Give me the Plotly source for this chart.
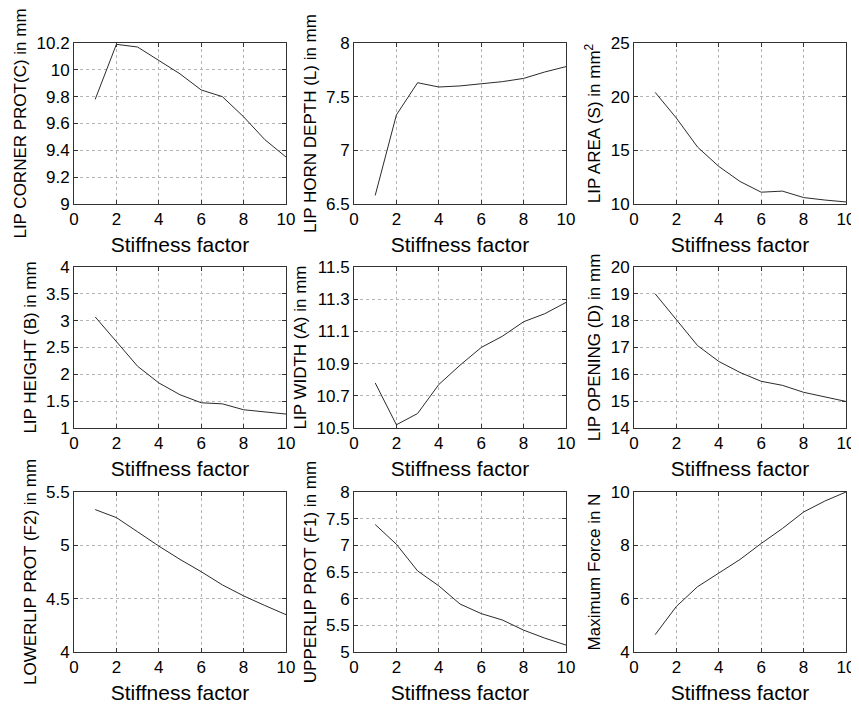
import plotly.graph_objects as go
from plotly.subplots import make_subplots

stiffness = [1, 2, 3, 4, 5, 6, 7, 8, 9, 10]

lip_corner_prot = [9.78, 10.19, 10.17, 10.07, 9.97, 9.85, 9.80, 9.65, 9.48, 9.35]
lip_horn_depth = [6.58, 7.33, 7.63, 7.59, 7.60, 7.62, 7.64, 7.67, 7.73, 7.78]
lip_area = [20.4, 18.0, 15.3, 13.5, 12.1, 11.1, 11.2, 10.6, 10.37, 10.19]
lip_height = [3.07, 2.61, 2.15, 1.84, 1.62, 1.47, 1.45, 1.34, 1.30, 1.26]
lip_width = [10.78, 10.52, 10.59, 10.77, 10.89, 11.00, 11.07, 11.16, 11.21, 11.28]
lip_opening = [19.0, 18.04, 17.07, 16.48, 16.07, 15.74, 15.59, 15.33, 15.16, 14.99]
lowerlip_prot = [5.335, 5.26, 5.127, 4.993, 4.868, 4.753, 4.629, 4.526, 4.436, 4.35]
upperlip_prot = [7.39, 7.02, 6.52, 6.24, 5.90, 5.72, 5.60, 5.41, 5.26, 5.13]
max_force = [4.65, 5.71, 6.45, 6.95, 7.47, 8.07, 8.63, 9.25, 9.66, 10.0]

x_ticks = [0, 2, 4, 6, 8, 10]
x_title = "Stiffness factor"

y_titles = [
    "LIP CORNER PROT(C) in mm",
    "LIP HORN DEPTH (L) in mm",
    "LIP AREA (S) in mm<sup>2</sup>",
    "LIP HEIGHT (B) in mm",
    "LIP WIDTH (A) in mm",
    "LIP OPENING (D) in mm",
    "LOWERLIP PROT (F2) in mm",
    "UPPERLIP PROT (F1) in mm",
    "Maximum Force in N",
]
series = [lip_corner_prot, lip_horn_depth, lip_area, lip_height, lip_width,
          lip_opening, lowerlip_prot, upperlip_prot, max_force]
y_ticks = [
    [9, 9.2, 9.4, 9.6, 9.8, 10, 10.2],
    [6.5, 7, 7.5, 8],
    [10, 15, 20, 25],
    [1, 1.5, 2, 2.5, 3, 3.5, 4],
    [10.5, 10.7, 10.9, 11.1, 11.3, 11.5],
    [14, 15, 16, 17, 18, 19, 20],
    [4, 4.5, 5, 5.5],
    [5, 5.5, 6, 6.5, 7, 7.5, 8],
    [4, 6, 8, 10],
]

# page is offset by the 8px default body margin
OFF = 8
W, H = 859 - OFF, 704 - OFF
col_px = [(74, 286), (354, 566), (634, 846)]
row_px = [(43, 204), (267, 428), (492, 652)]

fig = make_subplots(rows=3, cols=3)

FONT = "Liberation Sans, Arial, Helvetica, sans-serif"
for i in range(9):
    r, c = i // 3, i % 3
    fig.add_trace(go.Scatter(x=stiffness, y=series[i], mode="lines",
                             line=dict(color="#2b2b2b", width=1),
                             showlegend=False, hoverinfo="x+y"),
                  row=r + 1, col=c + 1)
    x0, x1 = col_px[c]
    y0, y1 = row_px[r]
    yt = y_ticks[i]
    fig.update_xaxes(row=r + 1, col=c + 1,
                     domain=[(x0 - OFF) / W, (x1 - OFF) / W], range=[0, 10],
                     automargin=False,
                     tickvals=x_ticks, ticks="inside", ticklen=4,
                     tickcolor="#333", showline=True, mirror="ticks",
                     linecolor="#333", linewidth=1,
                     showgrid=True, gridcolor="#b4b4b4", griddash="dot",
                     gridwidth=1, zeroline=False,
                     tickfont=dict(size=17, color="black", family=FONT),
                     title=dict(text=x_title, standoff=8,
                                font=dict(size=21, color="black", family=FONT)))
    fig.update_yaxes(row=r + 1, col=c + 1,
                     domain=[1 - (y1 - OFF) / H, 1 - (y0 - OFF) / H],
                     range=[yt[0], yt[-1]],
                     automargin=False,
                     tickvals=yt, ticks="inside", ticklen=4,
                     tickcolor="#333", showline=True, mirror="ticks",
                     linecolor="#333", linewidth=1,
                     showgrid=True, gridcolor="#b4b4b4", griddash="dot",
                     gridwidth=1, zeroline=False,
                     tickfont=dict(size=17, color="black", family=FONT),
                     title=dict(text=y_titles[i], standoff=5,
                                font=dict(size=17, color="black", family=FONT)))

fig.update_layout(width=W, height=H,
                  margin=dict(l=0, r=0, t=0, b=0, autoexpand=False),
                  paper_bgcolor="white", plot_bgcolor="white",
                  font=dict(family=FONT, color="black"))

fig.write_html("out.html")
